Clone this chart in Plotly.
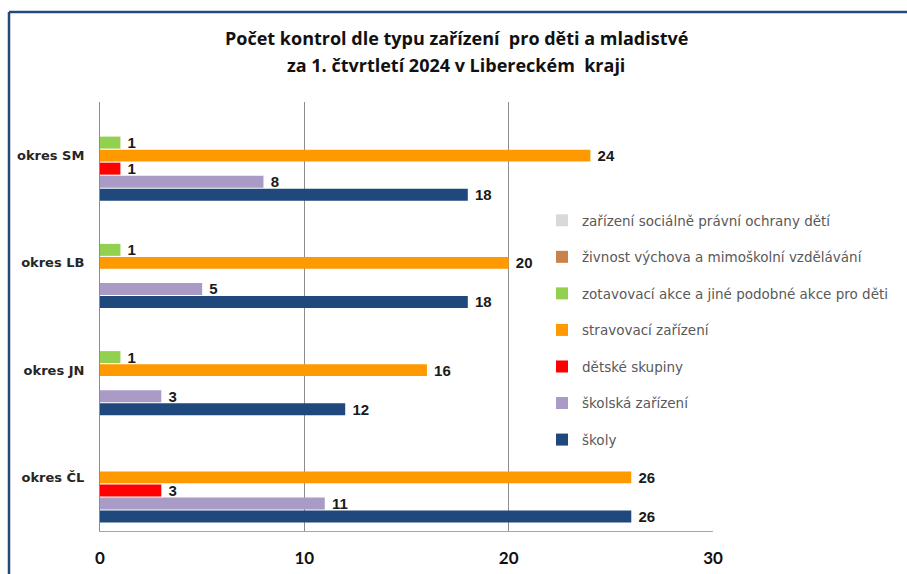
import plotly.graph_objects as go

categories = ["okres SM", "okres LB", "okres JN", "okres ČL"]
series_names = [
    "školy",
    "školská zařízení",
    "dětské skupiny",
    "stravovací zařízení",
    "zotavovací akce a jiné podobné akce pro děti",
    "živnost výchova a mimoškolní vzdělávání",
    "zařízení sociálně právní ochrany dětí",
]
skoly = [18, 18, 12, 26]
skolska_zarizeni = [8, 5, 3, 11]
detske_skupiny = [1, None, None, 3]
stravovaci = [24, 20, 16, 26]
zotavovaci = [1, 1, 1, None]
zivnost = [None, None, None, None]
spod = [None, None, None, None]
series_values = [skoly, skolska_zarizeni, detske_skupiny, stravovaci, zotavovaci, zivnost, spod]
colors = ["#1F497D", "#A99BC6", "#FF0000", "#FF9900", "#92D050", "#C9834A", "#D9D9D9"]
x_ticks = [0, 10, 20, 30]

W, H = 907, 574
ML, MR, MT, MB = 100, 194, 102, 43
PW, PH = W - ML - MR, H - MT - MB

def px_x(p):
    return (p - ML) / PW

def px_y(p):
    return (H - MB - p) / PH

fig = go.Figure()
n = len(series_names)
for i, (name, vals, col) in enumerate(zip(series_names, series_values, colors)):
    fig.add_trace(go.Bar(
        y=categories, x=vals, name=name, orientation="h",
        marker=dict(color=col, line=dict(width=0)),
        text=[("" if v is None else " " + str(v)) for v in vals],
        textposition="outside", constraintext="none", cliponaxis=False,
        textfont=dict(family="Liberation Sans Narrow, Liberation Sans", size=15, color="#1a1a1a", weight="bold"),
        legendgroup=name, legendrank=n - i,
    ))

fig.update_layout(
    width=W, height=H,
    margin=dict(l=ML, r=MR, t=MT, b=MB, autoexpand=False),
    paper_bgcolor="white", plot_bgcolor="white",
    barmode="group", bargap=0.15, bargroupgap=0.08,
    showlegend=True,
    legend=dict(
        x=px_x(542), y=px_y(205), xanchor="left", yanchor="top",
        traceorder="grouped", tracegroupgap=16, bgcolor="white",
        font=dict(family="DejaVu Sans", size=13.5, color="#595959"),
        itemwidth=30,
    ),
    xaxis=dict(
        range=[0, 30], tickvals=x_ticks, showgrid=True, gridcolor="#8c8c8c", gridwidth=1,
        showline=True, linecolor="#a6a6a6", linewidth=1, zeroline=False,
        ticks="", ticklabelstandoff=12,
        tickfont=dict(family="Lato", size=17, color="#111111", weight="bold"),
    ),
    yaxis=dict(
        categoryorder="array", categoryarray=categories[::-1],
        showline=True, linecolor="#8c8c8c", linewidth=1, showgrid=False,
        ticks="", ticklabelstandoff=12,
        tickfont=dict(family="DejaVu Sans", size=13, color="#262626", weight="bold"),
    ),
    annotations=[
        dict(text="Počet kontrol dle typu zařízení  pro děti a mladistvé", xref="paper", yref="paper",
             x=px_x(456), y=px_y(38), xanchor="center", yanchor="middle", showarrow=False,
             font=dict(family="Open Sans", size=18, color="#111111", weight="bold")),
        dict(text="za 1. čtvrtletí 2024 v Libereckém  kraji", xref="paper", yref="paper",
             x=px_x(456), y=px_y(65), xanchor="center", yanchor="middle", showarrow=False,
             font=dict(family="Open Sans", size=18, color="#111111", weight="bold")),
    ],
    shapes=[
        dict(type="line", xref="paper", yref="paper", x0=px_x(9), x1=px_x(910), y0=px_y(12), y1=px_y(12),
             line=dict(color="#244A7A", width=2.5)),
        dict(type="line", xref="paper", yref="paper", x0=px_x(9), x1=px_x(9), y0=px_y(12), y1=px_y(580),
             line=dict(color="#244A7A", width=2.5)),
    ],
)

fig.write_html("out.html", config={"displayModeBar": False},
               post_script="document.body.style.margin='0';document.body.style.overflow='hidden';")
